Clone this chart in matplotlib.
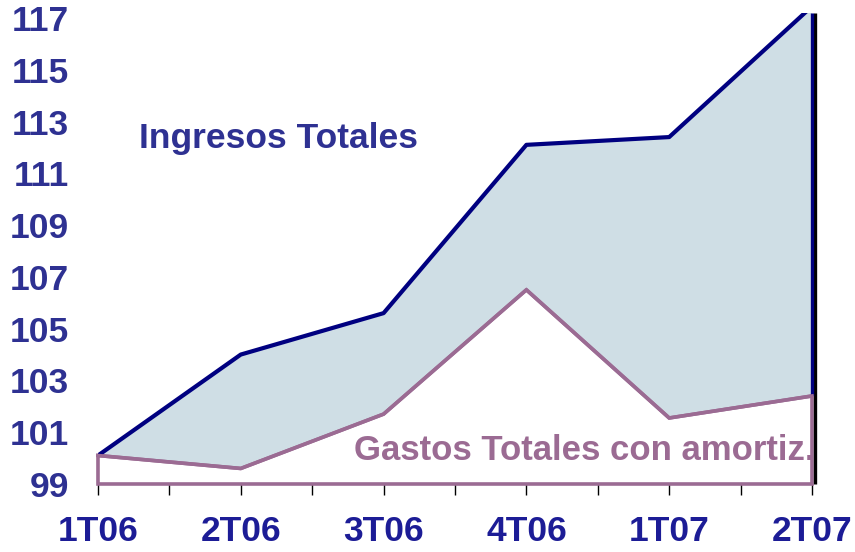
import matplotlib
matplotlib.use("Agg")
import matplotlib.pyplot as plt
import matplotlib.transforms as mtransforms
import numpy as np

categories = ["1T06", "2T06", "3T06", "4T06", "1T07", "2T07"]
ingresos = [100.1, 104.0, 105.6, 112.1, 112.4, 117.45]
gastos = [100.1, 99.6, 101.7, 106.5, 101.55, 102.4]
yticks = [99, 101, 103, 105, 107, 109, 111, 113, 115, 117]

plt.rcParams['font.family'] = ['Liberation Sans', 'DejaVu Sans']

fig = plt.figure(figsize=(8.55, 5.52), dpi=100)
ax = fig.add_axes([0.1146, 0.1232, 0.8351, 0.8536])
x = np.arange(len(categories))
ymin, ymax = 99, 117.2

navy = '#000080'
purple = '#9B6B93'
fillc = '#CFDEE5'
fs = 25.5

ax.fill_between(x, gastos, ingresos, color=fillc, lw=0, zorder=1)
# gastos polygon (white with purple border)
px = np.concatenate([[x[0]], x, [x[-1], x[0]]])
py = np.concatenate([[ymin], gastos, [ymin, ymin]])
ax.fill(px, py, facecolor='white', edgecolor=purple, lw=2.6, zorder=2, clip_on=False)
ax.plot(x, ingresos, color=navy, lw=3, zorder=3, solid_capstyle='butt')
shift = mtransforms.offset_copy(ax.transData, fig=fig, x=3.2, y=0, units='dots')
ax.plot([x[-1], x[-1]], [ymin, ymax], color='black', lw=2.4, zorder=4, clip_on=False,
        transform=shift, solid_capstyle='butt')
ax.plot([x[-1], x[-1]], [gastos[-1], ymax], color=navy, lw=2.4, zorder=5, clip_on=False,
        solid_capstyle='butt')
ax.plot(x, gastos, color=purple, lw=2.6, zorder=6, clip_on=False)

ax.set_xlim(0, 5)
ax.set_ylim(ymin, ymax)
for s in ax.spines.values():
    s.set_visible(False)

ax.set_xticks(x)
ax.set_xticklabels(categories)
ax.set_xticks(np.arange(0.5, 5, 1), minor=True)
ax.tick_params(axis='x', which='both', direction='out', length=8, width=1, color='black', pad=14)
for lab in ax.get_xticklabels():
    lab.set_fontsize(fs)
    lab.set_fontweight('bold')
    lab.set_color('#1C1C96')

ax.set_yticks(yticks)
ax.tick_params(axis='y', length=0, pad=21)
for lab in ax.get_yticklabels():
    lab.set_fontsize(fs)
    lab.set_fontweight('bold')
    lab.set_color('#2E3192')

ax.text(0.29, 112.35, "Ingresos Totales", fontsize=fs, fontweight='bold', color='#2E3192',
        ha='left', va='center', zorder=7)
ax.text(1.79, 100.3, "Gastos Totales con amortiz.", fontsize=25.0, fontweight='bold', color=purple,
        ha='left', va='center', zorder=7)

fig.savefig("out.png", dpi=100)
